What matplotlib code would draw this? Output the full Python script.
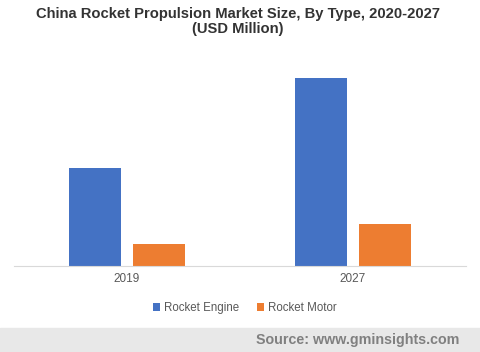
import numpy as np
import matplotlib.pyplot as plt

# values (relative bar heights)
years = ['2019', '2027']
engine = [98, 188]
motor = [22, 42]
series_names = ['Rocket Engine', 'Rocket Motor']

plt.rcParams['font.family'] = ['Liberation Sans', 'DejaVu Sans']

fig = plt.figure(figsize=(4.8, 3.52), dpi=100)
ax = fig.add_axes([14/480, 86/352, 452/480, 206/352])

x = np.arange(len(years))
w = 0.226
off = 0.1416
ax.bar(x - off, engine, w, color='#4472C4', label=series_names[0])
ax.bar(x + off, motor, w, color='#ED7D31', label=series_names[1])

ax.set_xlim(-0.5, 1.5)
ax.set_ylim(0, 206)
ax.set_xticks(x)
ax.set_xticklabels(years, fontsize=8.5, color='#595959')
ax.tick_params(axis='x', length=0, pad=5)
ax.set_yticks([])
for s in ['top', 'right', 'left']:
    ax.spines[s].set_visible(False)
ax.spines['bottom'].set_color('#D9D9D9')

fig.text(0.495, 1 - 7/352, 'China Rocket Propulsion Market Size, By Type, 2020-2027\n(USD Million)',
         ha='center', va='top', fontsize=10.6, fontweight='bold', color='#333333', linespacing=1.1)

leg = fig.legend(loc='center', bbox_to_anchor=(0.51, 1 - 308/352), ncol=2, frameon=False,
                 fontsize=8.3, handlelength=0.6, handleheight=0.6, handletextpad=0.3, columnspacing=1.6)
for t in leg.get_texts():
    t.set_color('#595959')

# grey source band at the bottom
fig.patches.append(plt.Rectangle((0, 0), 1, 24/352, transform=fig.transFigure,
                                 color='#E8E8E8', zorder=0))
fig.text(459/480, 12/352, 'Source: www.gminsights.com', ha='right', va='center',
         fontsize=10.3, fontweight='bold', color='#808080')

fig.savefig('out.png', dpi=100)
